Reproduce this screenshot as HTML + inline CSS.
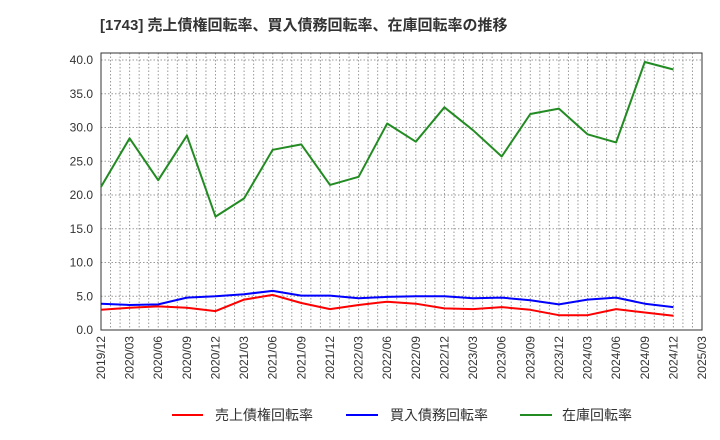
<!DOCTYPE html>
<html><head><meta charset="utf-8"><style>
body{margin:0;background:#fff;}
svg{display:block;font-family:"Liberation Sans","Noto Sans CJK JP",sans-serif;}
</style></head><body>
<svg id="c" width="720" height="440" viewBox="0 0 720 440">
<text x="100" y="30" font-size="15" font-weight="bold" fill="#333">[1743]  売上債権回転率、買入債務回転率、在庫回転率の推移</text>
<g id="grid"></g><g id="axes"></g><g id="series"></g>
<g>
<g><line x1="172" y1="415" x2="203" y2="415" stroke="#f00" stroke-width="2"/><text x="215" y="420" font-size="14" fill="#333">売上債権回転率</text></g>
<g><line x1="346" y1="415" x2="378" y2="415" stroke="#00f" stroke-width="2"/><text x="390" y="420" font-size="14" fill="#333">買入債務回転率</text></g>
<g><line x1="520" y1="415" x2="552" y2="415" stroke="#228b22" stroke-width="2"/><text x="562" y="420" font-size="14" fill="#333">在庫回転率</text></g>
</g>
</svg>
<script>
const categories=["2019/12","2020/03","2020/06","2020/09","2020/12","2021/03","2021/06","2021/09","2021/12","2022/03","2022/06","2022/09","2022/12","2023/03","2023/06","2023/09","2023/12","2024/03","2024/06","2024/09","2024/12","2025/03"];
const receivables=[3.0,3.3,3.5,3.3,2.8,4.5,5.2,4.0,3.1,3.7,4.2,3.9,3.2,3.1,3.4,3.0,2.2,2.2,3.1,2.6,2.1];
const payables=[3.9,3.7,3.8,4.8,5.0,5.3,5.8,5.1,5.1,4.7,4.9,5.0,5.0,4.7,4.8,4.4,3.8,4.5,4.8,3.9,3.4];
const inventory=[21.2,28.4,22.2,28.8,16.8,19.5,26.7,27.5,21.5,22.7,30.6,27.9,33.0,29.6,25.7,32.0,32.8,29.0,27.8,39.7,38.6];
const yTicks=["0.0","5.0","10.0","15.0","20.0","25.0","30.0","35.0","40.0"];
const L=101,R=702,T=53,B=330,YMAX=41.04;
const NS="http://www.w3.org/2000/svg";
function xs(i){return L+(R-L)*i/(categories.length-1);}
function ys(v){return B-(B-T)*v/YMAX;}
function mk(tag,attrs,parent){const e=document.createElementNS(NS,tag);for(const k in attrs)e.setAttribute(k,attrs[k]);parent.appendChild(e);return e;}
const grid=document.getElementById('grid'),axes=document.getElementById('axes'),ser=document.getElementById('series');
for(let m=1;m<63;m++){const x=L+(R-L)*m/63;const g=mk('line',{x1:x,x2:x,y1:T,y2:B,stroke:'#999','stroke-width':1,'stroke-dasharray':'1.5,2'},grid);

}
yTicks.forEach(t=>{const y=ys(parseFloat(t));
const g=mk('line',{x1:L,x2:R,y1:y,y2:y,stroke:'#999','stroke-width':1,'stroke-dasharray':'1.5,2'},grid);


const tx=mk('text',{x:93,y:y+4,'font-size':12,fill:'#333','text-anchor':'end'},axes);tx.textContent=t;

});
categories.forEach((c,i)=>{const x=xs(i);
const tx=mk('text',{x:0,y:0,'font-size':12,fill:'#333','text-anchor':'end',transform:`translate(${x+4},336) rotate(-90)`},axes);tx.textContent=c;

});
const frame=mk('rect',{x:L,y:T,width:R-L,height:B-T,fill:'none',stroke:'#333','stroke-width':1},axes);


function line(arr,color,name){const pts=arr.map((v,i)=>xs(i).toFixed(1)+','+ys(v).toFixed(1)).join(' ');
const p=mk('polyline',{points:pts,fill:'none',stroke:color,'stroke-width':2,'stroke-linejoin':'round'},ser);

}
line(receivables,'#f00','receivables-turnover-line');
line(payables,'#00f','payables-turnover-line');
line(inventory,'#228b22','inventory-turnover-line');
</script>
</body></html>
